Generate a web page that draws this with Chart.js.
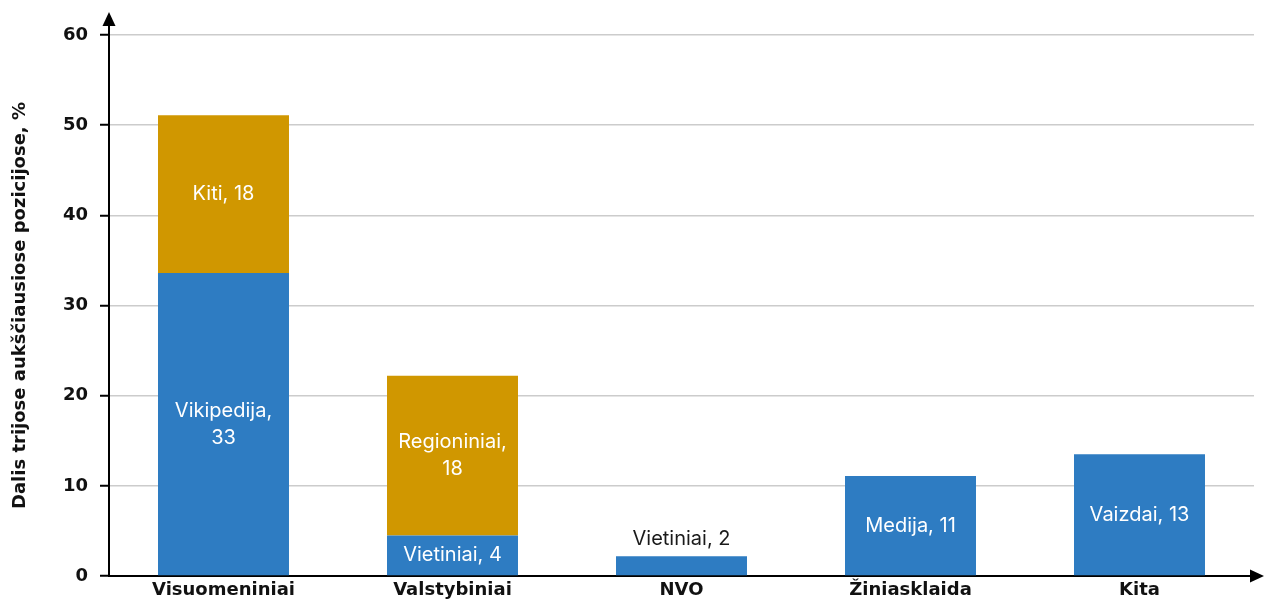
<!DOCTYPE html>
<html lang="lt">
<head>
<meta charset="utf-8">
<title>Dalis trijose aukščiausiose pozicijose</title>
<script src="https://cdn.jsdelivr.net/npm/chart.js@4.4.1/dist/chart.umd.min.js"></script>
<style>
    html, body { margin: 0; padding: 0; background: #ffffff; }
    #wrap { width: 1264px; height: 607px; }
</style>
</head>
<body>
<div id="wrap"><canvas id="sourcesChart" width="1264" height="607"></canvas></div>
<script>
const categories = ['Visuomeniniai', 'Valstybiniai', 'NVO', 'Žiniasklaida', 'Kita'];
const lowerValues = [33.6, 4.5, 2.2, 11.1, 13.5];
const upperValues = [17.5, 17.7, 0, 0, 0];
const lowerLabels = [['Vikipedija,', '33'], ['Vietiniai, 4'], ['Vietiniai, 2'], ['Medija, 11'], ['Vaizdai, 13']];
const upperLabels = [['Kiti, 18'], ['Regioniniai,', '18'], [], [], []];
const yTicks = [0, 10, 20, 30, 40, 50, 60];

const BLUE = '#2e7cc2';
const GOLD = '#d09700';
const AXIS_FONT = "'DejaVu Sans', 'Noto Sans', sans-serif";
const LABEL_FONT = "Inter, 'Noto Sans', sans-serif";

const segmentLabels = {
    id: 'segmentLabels',
    afterDatasetsDraw: function (chart) {
        const ctx = chart.ctx;
        const lineHeight = 27;
        ctx.save();
        ctx.font = '400 20px ' + LABEL_FONT;
        ctx.textAlign = 'center';
        ctx.textBaseline = 'middle';
        chart.data.datasets.forEach(function (dataset, di) {
            const meta = chart.getDatasetMeta(di);
            meta.data.forEach(function (bar, i) {
                const lines = dataset.segmentText[i] || [];
                if (!lines.length || !dataset.data[i]) {
                    return;
                }
                const top = Math.min(bar.y, bar.base);
                const bottom = Math.max(bar.y, bar.base);
                const blockHeight = lines.length * lineHeight;
                let centerY;
                if (bottom - top < 28) {
                    ctx.fillStyle = '#1a1a1a';
                    centerY = top - 4 - blockHeight / 2;
                } else {
                    ctx.fillStyle = '#ffffff';
                    centerY = (top + bottom) / 2;
                }
                lines.forEach(function (line, li) {
                    ctx.fillText(line, bar.x, centerY - blockHeight / 2 + lineHeight * (li + 0.5));
                });
            });
        });
        ctx.restore();
    }
};

const axisArrows = {
    id: 'axisArrows',
    afterDraw: function (chart) {
        const ctx = chart.ctx;
        const area = chart.chartArea;
        ctx.save();
        ctx.strokeStyle = '#000000';
        ctx.fillStyle = '#000000';
        ctx.lineWidth = 2;

        ctx.beginPath();
        ctx.moveTo(area.left, area.top);
        ctx.lineTo(area.left, 20);
        ctx.stroke();
        ctx.beginPath();
        ctx.moveTo(area.left, 12);
        ctx.lineTo(area.left - 6.5, 26);
        ctx.lineTo(area.left + 6.5, 26);
        ctx.closePath();
        ctx.fill();

        ctx.beginPath();
        ctx.moveTo(area.right, area.bottom);
        ctx.lineTo(1256, area.bottom);
        ctx.stroke();
        ctx.beginPath();
        ctx.moveTo(1264, area.bottom);
        ctx.lineTo(1250, area.bottom - 6.5);
        ctx.lineTo(1250, area.bottom + 6.5);
        ctx.closePath();
        ctx.fill();
        ctx.restore();
    }
};

new Chart(document.getElementById('sourcesChart'), {
    type: 'bar',
    data: {
        labels: categories,
        datasets: [
            {
                label: 'Pagrindiniai',
                data: lowerValues,
                segmentText: lowerLabels,
                backgroundColor: BLUE,
                barPercentage: 0.572,
                categoryPercentage: 1
            },
            {
                label: 'Kiti',
                data: upperValues,
                segmentText: upperLabels,
                backgroundColor: GOLD,
                barPercentage: 0.572,
                categoryPercentage: 1
            }
        ]
    },
    options: {
        responsive: false,
        animation: false,
        layout: {
            padding: { top: 35, right: 10, bottom: 0, left: 0 }
        },
        plugins: {
            legend: { display: false },
            tooltip: { enabled: false }
        },
        scales: {
            x: {
                stacked: true,
                afterFit: function (scale) {
                    scale.height = 31;
                },
                grid: { display: false, drawTicks: false },
                border: { display: true, color: '#000000', width: 2 },
                ticks: {
                    color: '#111111',
                    padding: 4,
                    font: { family: AXIS_FONT, size: 18, weight: '700' }
                }
            },
            y: {
                stacked: true,
                min: 0,
                max: 60,
                afterFit: function (scale) {
                    scale.width = 109;
                },
                afterBuildTicks: function (scale) {
                    scale.ticks = yTicks.map(function (v) { return { value: v }; });
                },
                grid: {
                    color: '#cccccc',
                    lineWidth: 1.5,
                    tickColor: '#000000',
                    tickWidth: 2,
                    tickLength: 9
                },
                border: { display: true, color: '#000000', width: 2 },
                ticks: {
                    color: '#111111',
                    padding: 12,
                    font: { family: AXIS_FONT, size: 18, weight: '700' }
                },
                title: {
                    display: true,
                    text: 'Dalis trijose aukščiausiose pozicijose, %',
                    color: '#111111',
                    padding: { top: 10, bottom: 0 },
                    font: { family: AXIS_FONT, size: 18, weight: '700' }
                }
            }
        }
    },
    plugins: [segmentLabels, axisArrows]
});
</script>
</body>
</html>
